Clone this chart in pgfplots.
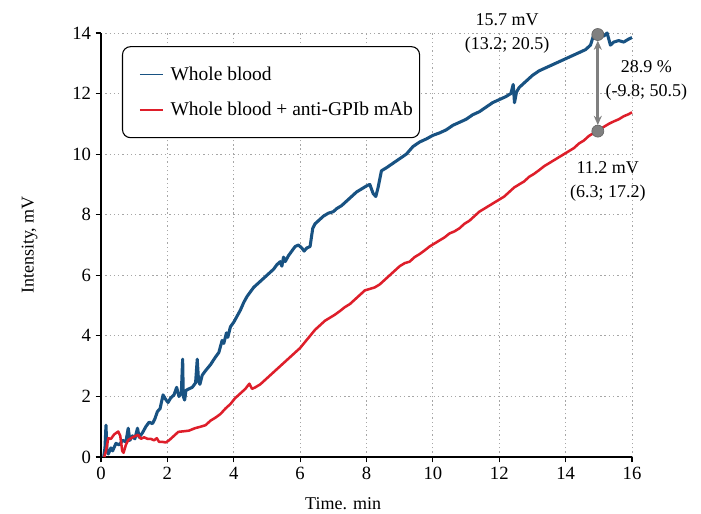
\documentclass[border=0pt]{standalone}
\usepackage{pgfplots}
\pgfplotsset{compat=1.18}
\usepackage{fontspec}
\setmainfont{Liberation Serif}
\usetikzlibrary{arrows.meta}
\definecolor{cblue}{RGB}{24,82,130}
\definecolor{cred}{RGB}{222,30,42}
\definecolor{cgray}{RGB}{128,128,128}
\begin{document}
\begin{tikzpicture}
\begin{axis}[
  scale only axis,
  width=398.25pt, height=318pt,
  xmin=0, xmax=16, ymin=0, ymax=14,
  xtick={0,2,...,16}, ytick={0,2,...,14},
  axis x line*=bottom, axis y line*=left,
  axis line style={line width=1.1pt, -},
  tick align=outside,
  major tick length=4pt,
  tick style={black, line width=0.8pt},
  grid=major,
  major grid style={gray!70, line width=0.6pt, dash pattern=on 1pt off 2.2pt},
  /pgf/number format/assume math mode=true,
  ticklabel style={font=\fontsize{14}{16}\selectfont},
  xlabel={Time. min},
  ylabel={Intensity, mV},
  label style={font=\fontsize{13.5}{15}\selectfont},
  xlabel style={at={(axis description cs:0.456,0)}, anchor=north, yshift=-27pt},
  ylabel style={at={(axis description cs:0,0.5)}, anchor=south, yshift=44pt},
  clip=false,
  legend style={at={(axis description cs:0.0395,0.969)}, anchor=north west,
    draw=black, line width=0.8pt, rounded corners=6pt,
    font=\fontsize{14.6}{18}\selectfont,
    inner xsep=3pt, inner ysep=13pt,
    row sep=11pt, cells={anchor=west}},
  legend image code/.code={\path[draw=none] (-10pt,0pt) -- (21pt,0pt); \draw[#1] (0pt,0pt) -- (17pt,0pt);},
  legend image post style={line width=1.1pt},
]
\addplot[cblue, line width=2.3pt, line join=round] coordinates {
(0.08,0) (0.12,0.3) (0.15,1.05) (0.18,0.2) (0.22,0.1) (0.3,0.3) (0.35,0.2) (0.45,0.45) (0.55,0.4) (0.65,0.55) (0.75,0.5) (0.82,0.95) (0.87,0.55) (0.95,0.7) (1.02,0.6) (1.1,0.95) (1.15,0.65) (1.25,0.8) (1.35,1.0) (1.45,1.15) (1.55,1.1) (1.62,1.25) (1.7,1.5) (1.78,1.6) (1.87,2.05) (1.95,1.9) (2.02,1.8) (2.1,1.95) (2.2,2.05) (2.28,2.3) (2.35,2.0) (2.42,2.1) (2.46,3.23) (2.48,2.0) (2.52,1.88) (2.56,2.2) (2.65,2.25) (2.75,2.3) (2.85,2.45) (2.9,3.23) (2.94,2.5) (2.98,2.4) (3.05,2.7) (3.15,2.85) (3.3,3.05) (3.45,3.3) (3.55,3.45) (3.65,3.85) (3.7,3.75) (3.78,4.1) (3.82,3.95) (3.9,4.3) (4.0,4.45) (4.1,4.65) (4.2,4.85) (4.3,5.1) (4.4,5.3) (4.5,5.45) (4.6,5.6) (4.7,5.7) (4.8,5.8) (4.9,5.9) (5.0,6.0) (5.1,6.1) (5.2,6.2) (5.3,6.35) (5.4,6.45) (5.45,6.3) (5.5,6.6) (5.55,6.45) (5.65,6.65) (5.75,6.8) (5.85,6.95) (5.95,7.0) (6.05,6.9) (6.12,6.8) (6.2,6.9) (6.3,6.95) (6.38,7.55) (6.45,7.7) (6.55,7.8) (6.7,7.95) (6.85,8.05) (7.0,8.1) (7.1,8.2) (7.25,8.3) (7.4,8.45) (7.55,8.6) (7.7,8.75) (7.85,8.85) (8.0,8.95) (8.1,9.0) (8.2,8.7) (8.28,8.6) (8.35,8.9) (8.45,9.45) (8.6,9.55) (8.8,9.7) (9.0,9.85) (9.2,10.0) (9.4,10.25) (9.6,10.4) (9.8,10.5) (10.0,10.62) (10.2,10.7) (10.4,10.8) (10.6,10.95) (10.8,11.05) (11.0,11.15) (11.2,11.3) (11.4,11.4) (11.6,11.55) (11.8,11.7) (12.0,11.8) (12.2,11.9) (12.35,12.0) (12.42,12.3) (12.46,11.7) (12.52,12.05) (12.6,12.2) (12.8,12.4) (13.0,12.6) (13.2,12.75) (13.4,12.85) (13.6,12.95) (13.8,13.05) (14.0,13.15) (14.2,13.25) (14.4,13.35) (14.6,13.45) (14.75,13.6) (14.85,13.95) (14.95,13.8) (15.05,14.05) (15.15,13.9) (15.25,14.0) (15.35,13.6) (15.45,13.7) (15.6,13.75) (15.75,13.7) (15.9,13.8) (16.0,13.85)
};
\addlegendentry{Whole blood}
\addplot[cred, line width=1.9pt, line join=round] coordinates {
(0.1,0) (0.15,0.2) (0.22,0.62) (0.3,0.6) (0.4,0.75) (0.52,0.84) (0.58,0.7) (0.64,0.2) (0.68,0.14) (0.75,0.4) (0.82,0.56) (0.95,0.65) (1.05,0.7) (1.12,0.73) (1.2,0.6) (1.3,0.65) (1.4,0.6) (1.5,0.6) (1.6,0.55) (1.68,0.62) (1.75,0.5) (1.85,0.5) (1.95,0.48) (2.05,0.55) (2.2,0.7) (2.33,0.83) (2.5,0.85) (2.65,0.87) (2.83,0.95) (3.0,1.0) (3.15,1.05) (3.3,1.2) (3.45,1.3) (3.6,1.42) (3.75,1.6) (3.9,1.75) (4.04,1.94) (4.2,2.1) (4.35,2.25) (4.47,2.42) (4.55,2.25) (4.65,2.3) (4.8,2.4) (4.95,2.55) (5.1,2.7) (5.25,2.85) (5.4,3.0) (5.55,3.15) (5.7,3.3) (5.85,3.45) (6.0,3.6) (6.15,3.8) (6.3,4.0) (6.45,4.2) (6.6,4.35) (6.75,4.5) (6.9,4.6) (7.05,4.7) (7.2,4.82) (7.35,4.95) (7.5,5.05) (7.65,5.2) (7.8,5.35) (7.95,5.5) (8.1,5.55) (8.25,5.6) (8.4,5.7) (8.55,5.85) (8.7,6.0) (8.85,6.15) (9.0,6.3) (9.15,6.4) (9.3,6.45) (9.45,6.6) (9.6,6.7) (9.75,6.82) (9.9,6.95) (10.05,7.05) (10.2,7.15) (10.35,7.25) (10.5,7.38) (10.65,7.45) (10.8,7.55) (10.95,7.7) (11.1,7.8) (11.25,7.95) (11.4,8.1) (11.55,8.2) (11.7,8.3) (11.85,8.4) (12.0,8.5) (12.15,8.6) (12.3,8.75) (12.45,8.9) (12.6,9.0) (12.75,9.1) (12.9,9.25) (13.05,9.35) (13.2,9.47) (13.35,9.6) (13.5,9.7) (13.65,9.8) (13.8,9.9) (13.95,10.0) (14.1,10.1) (14.25,10.2) (14.4,10.35) (14.55,10.45) (14.7,10.6) (14.85,10.7) (15.0,10.8) (15.15,10.9) (15.3,11.0) (15.45,11.08) (15.6,11.15) (15.75,11.25) (15.9,11.32) (16.0,11.38)
};
\addlegendentry{Whole blood + anti-GPIb mAb}
\addplot[cgray, line width=2pt, {Stealth[length=7pt,width=6pt]}-{Stealth[length=7pt,width=6pt]}, shorten <=4.5pt, shorten >=4.5pt, forget plot] coordinates {(14.97,13.95) (14.97,10.76)};
\addplot[only marks, mark=*, mark size=4.5pt, mark options={fill=cgray, draw=cgray!80!black, line width=0.5pt}, forget plot] coordinates {(14.97,13.95) (14.97,10.76)};
\node[font=\fontsize{13.5}{15}\selectfont, align=center, inner sep=0pt] at (axis cs:12.24,14.0) {15.7 mV\\[3pt](13.2; 20.5)};
\node[font=\fontsize{13.5}{15}\selectfont, align=center, inner sep=0pt] at (axis cs:16.43,12.42) {28.9 \%\\[3pt](-9.8; 50.5)};
\node[font=\fontsize{13.5}{15}\selectfont, align=center, inner sep=0pt] at (axis cs:15.27,9.1) {11.2 mV\\[3pt](6.3; 17.2)};
\end{axis}
\pgfresetboundingbox
\path (current axis.south west) ++(-75.75pt,-42.75pt) coordinate (bl);
\path (current axis.north east) ++(51.75pt,24.75pt) coordinate (tr);
\path (bl) rectangle (tr);
\end{tikzpicture}
\end{document}
